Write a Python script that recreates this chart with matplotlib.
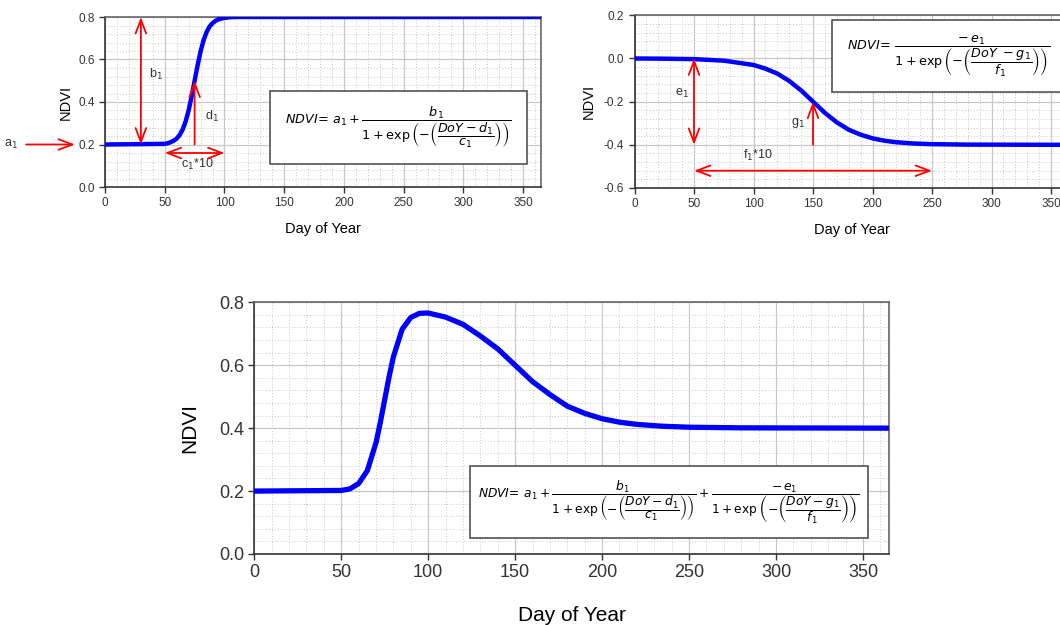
import matplotlib
matplotlib.use("Agg")
import matplotlib.pyplot as plt
from matplotlib.patches import Rectangle
from matplotlib.ticker import MultipleLocator, FormatStrFormatter

plt.rcParams['font.family'] = ['Liberation Sans', 'DejaVu Sans']
plt.rcParams['mathtext.fontset'] = 'dejavusans'
plt.rcParams['axes.unicode_minus'] = False

# parameters shown by the arrows
a1, b1, c1, d1 = 0.2, 0.6, 5, 75
e1, f1, g1 = 0.4, 20, 150

# green-up curve (top left)
greenup_day = [0, 50, 52.5, 55, 57.5, 60, 62.5, 65, 67.5, 70, 72.5, 75, 77.5, 80,
               82.5, 85, 87.5, 90, 92.5, 95, 97.5, 100, 105, 110, 365]
greenup_ndvi = [0.2, 0.203, 0.206, 0.211, 0.218, 0.228, 0.245, 0.271, 0.309, 0.361,
                0.427, 0.5, 0.573, 0.639, 0.691, 0.729, 0.755, 0.771, 0.782, 0.789,
                0.793, 0.796, 0.799, 0.8, 0.8]

# senescence curve (top right)
senes_day = [0, 25, 50, 75, 100, 110, 120, 130, 140, 150, 160, 170, 180, 190,
             200, 210, 220, 235, 250, 280, 365]
senes_ndvi = [0.0, -0.001, -0.003, -0.01, -0.03, -0.047, -0.07, -0.104, -0.148, -0.2,
              -0.252, -0.296, -0.33, -0.353, -0.37, -0.381, -0.388, -0.394, -0.397,
              -0.399, -0.4]

# combined double logistic curve (bottom)
both_day = [0, 50, 55, 60, 65, 70, 72.5, 75, 77.5, 80, 85, 90, 95, 100, 110, 120, 130,
            140, 150, 160, 170, 180, 190, 200, 210, 220, 235, 250, 280, 365]
both_ndvi = [0.2, 0.202, 0.207, 0.224, 0.265, 0.354, 0.419, 0.491, 0.563, 0.627, 0.714,
             0.752, 0.765, 0.766, 0.753, 0.73, 0.693, 0.652, 0.6, 0.548, 0.507, 0.47,
             0.447, 0.43, 0.419, 0.412, 0.406, 0.403, 0.401, 0.4]

eq_top_left = (r'$NDVI\!=\,a_1 + \dfrac{b_1}{1+\exp\left(-\left(\dfrac{DoY-d_1}{c_1}'
               r'\right)\right)}$')
eq_top_right = (r'$NDVI\!=\,\dfrac{-\,e_1}{1+\exp\left(-\left(\dfrac{DoY\ -g_1}{f_1}'
                r'\right)\right)}$')
eq_bottom = (r'$NDVI\!=\,a_1 + \dfrac{b_1}{1+\exp\left(-\left(\dfrac{DoY-d_1}{c_1}'
             r'\right)\right)} + \dfrac{-\,e_1}{1+\exp\left(-\left(\dfrac{DoY-g_1}{f_1}'
             r'\right)\right)}$')

RED = '#ff0000'
TXT = '#333333'
HEAD = ',head_length=1.0,head_width=0.38'


def setup_axes(ax, ylim, fs):
    ax.set_xlim(0, 365)
    ax.set_ylim(*ylim)
    ax.xaxis.set_major_locator(MultipleLocator(50))
    ax.xaxis.set_minor_locator(MultipleLocator(10))
    ax.yaxis.set_major_locator(MultipleLocator(0.2))
    ax.yaxis.set_minor_locator(MultipleLocator(0.04))
    ax.yaxis.set_major_formatter(FormatStrFormatter('%.1f'))
    ax.grid(which='major', color='#c8c8c8', lw=0.9)
    ax.grid(which='minor', color='#c8c8c8', lw=0.7, ls=(0, (1, 2)))
    ax.set_axisbelow(True)
    ax.tick_params(which='major', direction='out', length=4, width=1, colors='#333333',
                   labelsize=fs, top=False, right=False)
    ax.tick_params(which='minor', length=0)
    for side in ['left', 'bottom']:
        ax.spines[side].set_color('#333333')
        ax.spines[side].set_linewidth(1.2)
    for side in ['top', 'right']:
        ax.spines[side].set_color('#666666')
        ax.spines[side].set_linewidth(1.2)


def equation_box(ax, x0, y0, x1, y1, text, fs):
    ax.add_patch(Rectangle((x0, y0), x1 - x0, y1 - y0, transform=ax.transAxes,
                           fc='white', ec='#444444', lw=1.1, zorder=4, clip_on=False))
    ax.text((x0 + x1) / 2, (y0 + y1) / 2, text, transform=ax.transAxes, fontsize=fs,
            ha='center', va='center', color='black', zorder=5)


def arrow(ax, start, end, style='<->'):
    ax.annotate('', xy=end, xytext=start,
                arrowprops=dict(arrowstyle=style + HEAD, color=RED, lw=1.3,
                                shrinkA=0, shrinkB=0), zorder=6)


fig = plt.figure(figsize=(10.6, 6.25), dpi=100)

# top left: green-up
ax1 = fig.add_axes([0.0991, 0.7008, 0.4113, 0.272])
setup_axes(ax1, (0, 0.8), 8.5)
ax1.plot(greenup_day, greenup_ndvi, color='#0000ff', lw=3.2, zorder=3)
ax1.set_xlabel('Day of Year', fontsize=10.5, labelpad=9, color='black')
ax1.set_ylabel('NDVI', fontsize=10.5, labelpad=4, color='black')
arrow(ax1, (30, a1), (30, a1 + b1))
ax1.text(37, 0.53, r'b$_1$', fontsize=9, color=TXT, ha='left', va='center')
arrow(ax1, (d1, a1), (d1, a1 + b1 / 2), '->')
ax1.text(84, 0.33, r'd$_1$', fontsize=9, color=TXT, ha='left', va='center')
arrow(ax1, (d1 - c1 * 5, 0.16), (d1 + c1 * 5, 0.16))
ax1.text(77, 0.105, r'c$_1$*10', fontsize=9, color=TXT, ha='center', va='center')
ax1.annotate('', xy=(-0.069, a1), xytext=(-0.181, a1), xycoords=ax1.get_yaxis_transform(),
             textcoords=ax1.get_yaxis_transform(), annotation_clip=False,
             arrowprops=dict(arrowstyle='->' + HEAD, color=RED, lw=1.3,
                             shrinkA=0, shrinkB=0))
ax1.text(-0.215, a1, r'a$_1$', transform=ax1.get_yaxis_transform(), fontsize=9,
         color=TXT, ha='center', va='center')
equation_box(ax1, 0.378, 0.137, 0.968, 0.562, eq_top_left, 9.2)

# top right: senescence
ax2 = fig.add_axes([0.5986, 0.6992, 0.4098, 0.2763])
setup_axes(ax2, (-0.6, 0.2), 8.5)
ax2.plot(senes_day, senes_ndvi, color='#0000ff', lw=3.2, zorder=3)
ax2.set_xlabel('Day of Year', fontsize=10.5, labelpad=9, color='black')
ax2.set_ylabel('NDVI', fontsize=10.5, labelpad=6, color='black')
arrow(ax2, (50, 0), (50, -e1))
ax2.text(40, -0.16, r'e$_1$', fontsize=9, color=TXT, ha='center', va='center')
arrow(ax2, (g1, -e1), (g1, -e1 / 2), '->')
ax2.text(137, -0.30, r'g$_1$', fontsize=9, color=TXT, ha='center', va='center')
arrow(ax2, (g1 - f1 * 5, -0.52), (g1 + f1 * 5, -0.52))
ax2.text(104, -0.45, r'f$_1$*10', fontsize=9, color=TXT, ha='center', va='center')
equation_box(ax2, 0.455, 0.556, 0.99, 0.973, eq_top_right, 9.2)

# bottom: combined
ax3 = fig.add_axes([0.2399, 0.1136, 0.5988, 0.4027])
setup_axes(ax3, (0, 0.8), 13)
ax3.plot(both_day, both_ndvi, color='#0000ff', lw=3.8, zorder=3)
ax3.set_xlabel('Day of Year', fontsize=15, labelpad=18, color='black')
ax3.set_ylabel('NDVI', fontsize=15, labelpad=14, color='black')
equation_box(ax3, 0.340, 0.065, 0.967, 0.351, eq_bottom, 8.8)

fig.savefig('out.png', dpi=100)
